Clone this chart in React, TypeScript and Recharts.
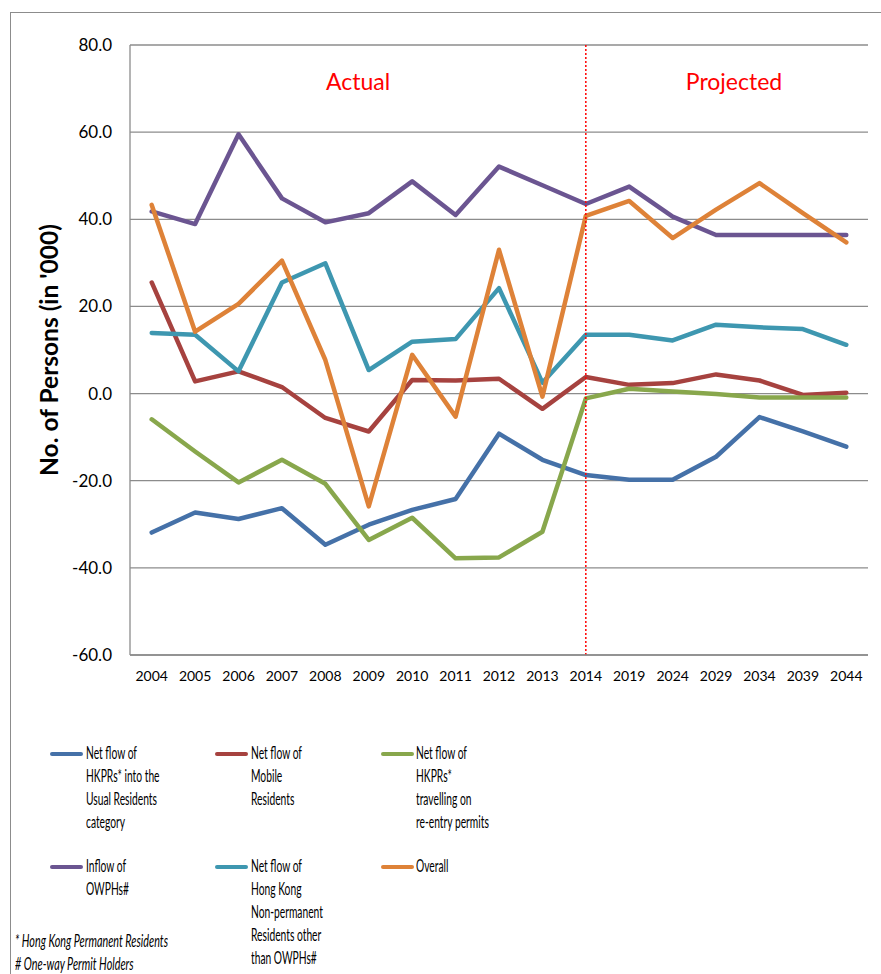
import React from 'react';
import { LineChart, Line, XAxis, YAxis, CartesianGrid, ReferenceLine } from 'recharts';

const years = ['2004', '2005', '2006', '2007', '2008', '2009', '2010', '2011', '2012', '2013', '2014', '2019', '2024', '2029', '2034', '2039', '2044'];

const hkprsUsual = [-31.9, -27.3, -28.8, -26.3, -34.7, -30.1, -26.7, -24.2, -9.2, -15.2, -18.7, -19.8, -19.8, -14.5, -5.4, -8.7, -12.2];
const mobileResidents = [25.5, 2.8, 5.1, 1.5, -5.6, -8.7, 3.1, 3.0, 3.4, -3.5, 3.8, 2.0, 2.4, 4.4, 3.0, -0.3, 0.2];
const reentryPermits = [-5.9, -13.3, -20.4, -15.2, -20.7, -33.6, -28.5, -37.8, -37.6, -31.7, -1.1, 1.1, 0.5, -0.1, -0.9, -0.9, -0.9];
const owphInflow = [41.8, 38.9, 59.5, 44.8, 39.3, 41.4, 48.7, 41.0, 52.1, 47.8, 43.5, 47.5, 40.6, 36.4, 36.4, 36.4, 36.4];
const nonPermanent = [13.9, 13.5, 5.1, 25.5, 29.9, 5.4, 11.9, 12.5, 24.2, 2.5, 13.5, 13.5, 12.2, 15.8, 15.2, 14.8, 11.2];
const overall = [43.3, 14.2, 20.6, 30.5, 7.7, -25.9, 8.9, -5.3, 33.0, -0.7, 40.8, 44.2, 35.7, 42.2, 48.3, 41.4, 34.7];

const yTicks = [-60, -40, -20, 0, 20, 40, 60, 80];

const seriesKeys = ['hkprs', 'mobile', 'reentry', 'owph', 'nonperm', 'overall'];
const seriesColors = ['#4571A8', '#A6423F', '#88A74C', '#6B5591', '#3E97B0', '#DE8238'];
const seriesLabels = [
  ['Net flow of', 'HKPRs* into the', 'Usual Residents', 'category'],
  ['Net flow of', 'Mobile', 'Residents'],
  ['Net flow of', 'HKPRs*', 'travelling on', 're-entry permits'],
  ['Inflow of', 'OWPHs#'],
  ['Net flow of', 'Hong Kong', 'Non-permanent', 'Residents other', 'than OWPHs#'],
  ['Overall'],
];

const footnotes = ['* Hong Kong Permanent Residents', '# One-way Permit Holders'];

const FONT = 'Lato, "Open Sans", sans-serif';
const GRID = '#8c8c8c';

export default function App() {
  const values = [hkprsUsual, mobileResidents, reentryPermits, owphInflow, nonPermanent, overall];
  const data = years.map((y, i) => {
    const row: Record<string, any> = { year: y };
    seriesKeys.forEach((k, s) => {
      row[k] = values[s][i];
    });
    return row;
  });

  const legendPos = [
    { sx: 50, tx: 86, top: 741 },
    { sx: 215, tx: 251, top: 741 },
    { sx: 381, tx: 416, top: 741 },
    { sx: 50, tx: 86, top: 854 },
    { sx: 215, tx: 251, top: 854 },
    { sx: 381, tx: 416, top: 854 },
  ];

  return (
    <div style={{ position: 'absolute', left: 0, top: 0, width: 881, height: 974, background: '#fff', overflow: 'hidden', fontFamily: FONT }}>
      <div style={{ position: 'absolute', left: 10, top: 12, width: 900, height: 1000, borderTop: `1.5px solid ${GRID}`, borderLeft: `1.5px solid ${GRID}` }} />
      <div style={{ position: 'absolute', left: 0, top: 0 }}>
        <LineChart width={881} height={720} data={data} margin={{ top: 45, right: 13, bottom: 25, left: 60 }}>
          <CartesianGrid vertical={false} stroke={GRID} strokeWidth={1.3} />
          <XAxis
            dataKey="year"
            scale="band"
            interval={0}
            tickLine={false}
            tickSize={0}
            tickMargin={16}
            height={40}
            axisLine={{ stroke: GRID, strokeWidth: 1.3 }}
            tick={{ fontSize: 14, fill: '#000', fontFamily: FONT }}
          />
          <YAxis
            domain={[-60, 80]}
            ticks={yTicks}
            type="number"
            width={70}
            tickLine={false}
            tickSize={0}
            tickMargin={18}
            axisLine={{ stroke: GRID, strokeWidth: 1.3 }}
            tick={{ fontSize: 17, fill: '#000', fontFamily: FONT }}
            tickFormatter={(v: number) => v.toFixed(1)}
            allowDataOverflow
          />
          {seriesKeys.map((k, s) => (
            <Line
              key={k}
              dataKey={k}
              type="linear"
              stroke={seriesColors[s]}
              strokeWidth={4.5}
              strokeLinejoin="round"
              strokeLinecap="round"
              dot={false}
              activeDot={false}
              isAnimationActive={false}
            />
          ))}
          <ReferenceLine x="2014" stroke="#ff0000" strokeWidth={1.5} strokeDasharray="2 2" />
        </LineChart>
      </div>

      <div style={{ position: 'absolute', left: 358, top: 70, transform: 'translateX(-50%)', fontSize: 23, lineHeight: 1, color: '#ff0000', whiteSpace: 'nowrap' }}>Actual</div>
      <div style={{ position: 'absolute', left: 734, top: 70, transform: 'translateX(-50%)', fontSize: 23, lineHeight: 1, color: '#ff0000', whiteSpace: 'nowrap' }}>Projected</div>

      <div
        style={{
          position: 'absolute',
          left: 49,
          top: 350,
          transform: 'translate(-50%, -50%) rotate(-90deg)',
          fontSize: 24.5,
          fontWeight: 'bold',
          lineHeight: 1,
          whiteSpace: 'nowrap',
          color: '#000',
        }}
      >
        No. of Persons (in '000)
      </div>

      {seriesLabels.map((lines, s) => {
        const p = legendPos[s];
        return (
          <React.Fragment key={s}>
            <div style={{ position: 'absolute', left: p.sx, top: p.top + 13 - 2.25, width: 33, height: 4.5, borderRadius: 3, background: seriesColors[s] }} />
            <div style={{ position: 'absolute', left: p.tx, top: p.top, transform: 'scaleX(0.57)', transformOrigin: 'left top', fontSize: 18, lineHeight: '23px', color: '#000', whiteSpace: 'nowrap' }}>
              {lines.map((l, i) => (
                <div key={i}>{l}</div>
              ))}
            </div>
          </React.Fragment>
        );
      })}

      <div style={{ position: 'absolute', left: 15, top: 929, transform: 'scaleX(0.6)', transformOrigin: 'left top', fontSize: 18, lineHeight: '23px', fontStyle: 'italic', color: '#000', whiteSpace: 'nowrap' }}>
        {footnotes.map((f, i) => (
          <div key={i}>{f}</div>
        ))}
      </div>
    </div>
  );
}
